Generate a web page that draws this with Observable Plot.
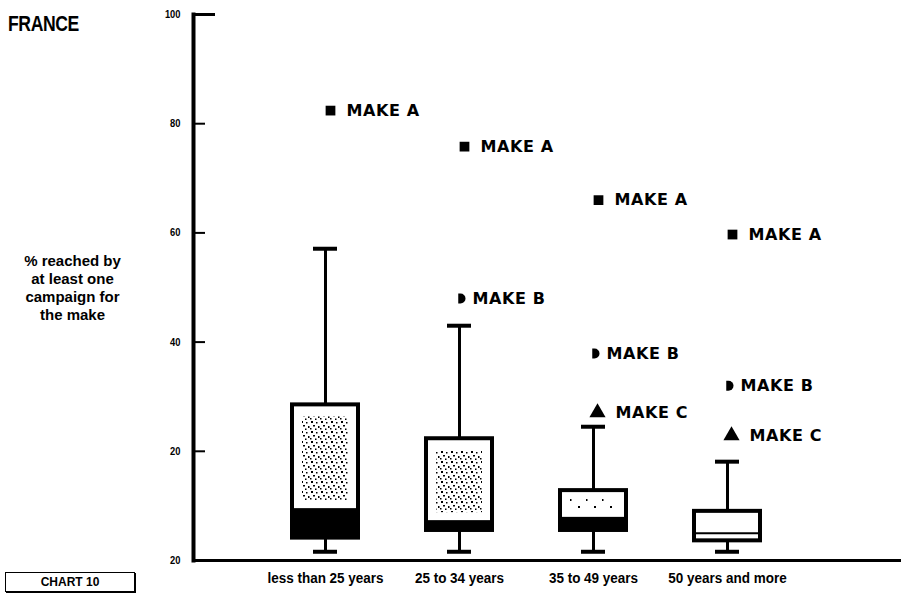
<!DOCTYPE html>
<html><head><meta charset="utf-8">
<script src="https://cdn.jsdelivr.net/npm/d3@7"></script>
<script src="https://cdn.jsdelivr.net/npm/@observablehq/plot@0.6"></script>
<style>
body{margin:0;background:#fff;}
#wrap{position:relative;width:901px;height:602px;overflow:hidden;background:#fff;}
#wrap svg{position:absolute;left:0;top:0;}
#title{position:absolute;left:8px;top:11px;font-family:"Liberation Sans",Arial,sans-serif;font-weight:bold;font-size:22px;letter-spacing:-0.5px;color:#000;transform:scaleX(0.8);transform-origin:0 0;}
#ylab{position:absolute;left:0;top:252px;width:145px;text-align:center;font-family:"Liberation Sans",Arial,sans-serif;font-weight:bold;font-size:15px;line-height:18px;color:#000;}
#chartno{position:absolute;left:5px;top:572px;width:128px;height:18px;border:1.5px solid #000;box-shadow:1px 1px 0 #000;font-family:"Liberation Sans",Arial,sans-serif;font-weight:bold;font-size:12px;line-height:18px;text-align:center;color:#000;background:#fff;}
</style></head><body>
<svg width="0" height="0" style="position:absolute">
<defs>
<pattern id="stipDense" width="10" height="10" patternUnits="userSpaceOnUse">
<rect x="1" y="1" width="2" height="2" fill="#000"/>
<rect x="6" y="2" width="1.5" height="1.5" fill="#000"/>
<rect x="3" y="5" width="2" height="1.5" fill="#000"/>
<rect x="8" y="6" width="1.5" height="2" fill="#000"/>
<rect x="0" y="8" width="1.5" height="1.5" fill="#000"/>
<rect x="5" y="8.5" width="1.5" height="1.5" fill="#000"/>
</pattern>
<pattern id="stipSparse" width="16" height="12" patternUnits="userSpaceOnUse">
<rect x="2" y="2" width="2" height="2" fill="#000"/>
<rect x="10" y="7" width="1.5" height="2" fill="#000"/>
</pattern>
</defs>
</svg>
<div id="wrap">
<div id="title">FRANCE</div>
<div id="ylab">% reached by<br>at least one<br>campaign for<br>the make</div>
<div id="chartno">CHART 10</div>
</div>
<script>
// ---- data ----
const ages = ["less than 25 years", "25 to 34 years", "35 to 49 years", "50 years and more"];
const whiskerLow = [1.6, 1.6, 1.6, 1.6];
const q1 = [4.1, 5.5, 5.5, 3.6];
const median = [9.5, 7.3, 7.9, 5.0];
const q3 = [28.5, 22.3, 12.8, 9.0];
const whiskerHigh = [57.1, 43.0, 24.5, 18.1];
const makeA = [82.4, 75.8, 66.0, 59.7];
const makeB = [null, 48.0, 37.9, 32.0];
const makeC = [null, null, 27.1, 22.9];
const yTicks = [0, 20, 40, 60, 80, 100];
const yTickLabels = ["20", "20", "40", "60", "80", "100"];

const table = ages.map((age, i) => ({age, lo: whiskerLow[i], q1: q1[i], med: median[i], q3: q3[i], hi: whiskerHigh[i], i}));
const pts = (arr) => ages.map((age, i) => ({age, v: arr[i]})).filter(d => d.v != null);

const sansFont = '"Liberation Sans",Arial,sans-serif';
const makeFont = '"DejaVu Sans","Liberation Sans",sans-serif';

const dShape = {
  draw(context, size) {
    const r = Math.sqrt(size / Math.PI);
    context.moveTo(-0.45 * r, -r);
    context.arc(0, 0, r, -Math.PI / 2, Math.PI / 2);
    context.lineTo(-0.45 * r, r);
    context.closePath();
  }
};

const W = 901, H = 602, ML = 193, MR = 0;
const frameW = W - ML - MR;

const chart = Plot.plot({
  width: W, height: H,
  marginLeft: ML, marginRight: MR, marginTop: 14, marginBottom: 42,
  style: {background: "transparent", color: "#000"},
  x: {type: "band", domain: ages, range: [258, 794], padding: 0, axis: null},
  y: {domain: [0, 100], axis: null},
  marks: [
    Plot.axisY({ticks: yTicks, tickFormat: (d) => yTickLabels[yTicks.indexOf(d)], tickSize: 0, tickPadding: 13,
      fontSize: 11, fontWeight: "bold", fontFamily: sansFont, label: null}),
    Plot.axisX({tickSize: 0, tickPadding: 12, fontSize: 15, fontWeight: "bold", fontFamily: sansFont, label: null}),
    Plot.ruleY(yTicks.filter(d => d > 0 && d < 100), {strokeWidth: 2, insetRight: frameW - 12}),
    Plot.ruleY([100], {strokeWidth: 3, insetRight: frameW - 22}),
    // whiskers
    Plot.ruleX(table, {x: "age", y1: "lo", y2: "hi", strokeWidth: 3}),
    Plot.tickY(table, {x: "age", y: "hi", strokeWidth: 4, insetLeft: 55, insetRight: 55}),
    Plot.tickY(table, {x: "age", y: "lo", strokeWidth: 4, insetLeft: 55, insetRight: 55}),
    // boxes
    Plot.barY(table, {x: "age", y1: "q1", y2: "q3", fill: "white", stroke: "black", strokeWidth: 4, insetLeft: 34, insetRight: 34}),
    Plot.barY(table.filter(d => d.i < 2), {x: "age", y1: "med", y2: "q3", fill: "url(#stipDense)", insetLeft: 44, insetRight: 44, insetTop: 12, insetBottom: 8}),
    Plot.barY(table.filter(d => d.i === 2), {x: "age", y1: "med", y2: "q3", fill: "url(#stipSparse)", insetLeft: 44, insetRight: 44, insetTop: 8, insetBottom: 6}),
    Plot.barY(table.filter(d => d.i < 3), {x: "age", y1: "q1", y2: "med", fill: "black", insetLeft: 34, insetRight: 34}),
    Plot.tickY(table.filter(d => d.i === 3), {x: "age", y: "med", strokeWidth: 2, insetLeft: 34, insetRight: 34}),
    // axis lines
    Plot.ruleY([0], {strokeWidth: 3}),
    Plot.frame({anchor: "left", strokeWidth: 4}),
    // makes
    Plot.dot(pts(makeA), {x: "age", y: "v", symbol: "square", r: 5.5, fill: "black", dx: 5}),
    Plot.dot(pts(makeB), {x: "age", y: "v", symbol: dShape, r: 5, fill: "black", dx: 1}),
    Plot.dot(pts(makeC), {x: "age", y: "v", symbol: "triangle", r: 6, fill: "black", dx: 4}),
    Plot.text(pts(makeA), {x: "age", y: "v", text: () => "MAKE A", dx: 21, textAnchor: "start", fontSize: 16, fontWeight: "bold", fontFamily: makeFont}),
    Plot.text(pts(makeB), {x: "age", y: "v", text: () => "MAKE B", dx: 13, textAnchor: "start", fontSize: 16, fontWeight: "bold", fontFamily: makeFont}),
    Plot.text(pts(makeC), {x: "age", y: "v", text: () => "MAKE C", dx: 22, textAnchor: "start", fontSize: 16, fontWeight: "bold", fontFamily: makeFont})
  ]
});
document.getElementById("wrap").prepend(chart);
d3.select(chart).selectAll("text").filter(function(){ return /MAKE/.test(this.textContent); }).style("letter-spacing", "0.6px");
d3.select(chart).selectAll('g[aria-label="x-axis tick label"] text').each(function() {
  const t = this.getAttribute("transform") || "";
  this.setAttribute("transform", t + " scale(0.9,1)");
});
d3.select(chart).selectAll('g[aria-label="y-axis tick label"] text').each(function() {
  const t = this.getAttribute("transform") || "";
  this.setAttribute("transform", t + " scale(0.85,1)");
});
</script>
</body></html>
